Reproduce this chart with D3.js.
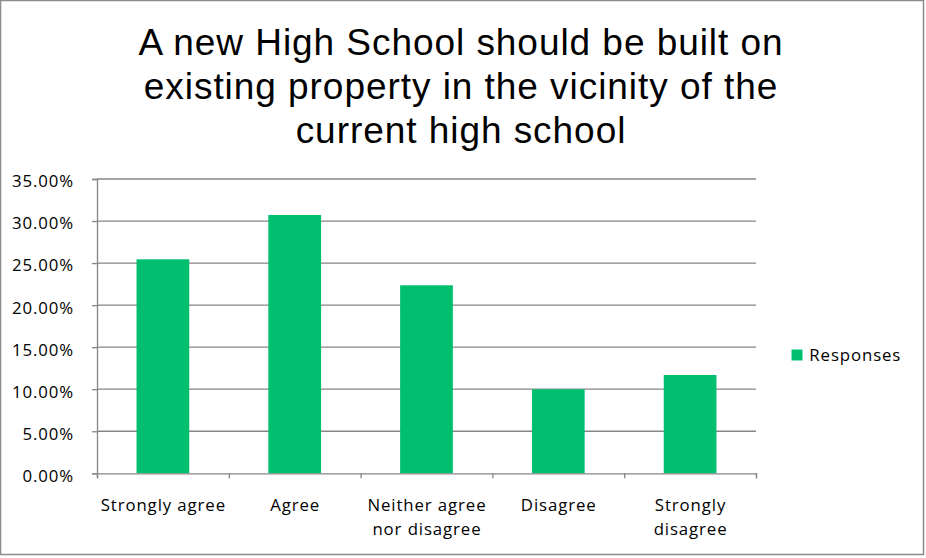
<!DOCTYPE html>
<html><head><meta charset="utf-8">
<script src="https://cdn.jsdelivr.net/npm/d3@7/dist/d3.min.js"></script>
<style>
html,body{margin:0;padding:0;background:#fff;}
svg{display:block;}
</style></head>
<body>
<svg id="chart" width="926" height="558"></svg>
<script>
const titleLines = ["A new High School should be built on", "existing property in the vicinity of the", "current high school"];
const categories = ["Strongly agree", "Agree", "Neither agree nor disagree", "Disagree", "Strongly disagree"];
const categoryLines = [["Strongly agree"], ["Agree"], ["Neither agree", "nor disagree"], ["Disagree"], ["Strongly", "disagree"]];
const responses = [0.2545, 0.3072, 0.2236, 0.0999, 0.1169];
const yTicks = [0, 0.05, 0.10, 0.15, 0.20, 0.25, 0.30, 0.35];
const seriesName = "Responses";

const svg = d3.select("#chart");
const plot = {left: 97, right: 756, top: 179, bottom: 473.3};
const gridColor = "#868686";
const barColor = "#00BF6F";
const bodyFont = "'Open Sans', 'Noto Sans', sans-serif";
const fs = 16.8;
const ls = 0.9;

// outer border
svg.append("rect").attr("x", 0.5).attr("y", 0.5).attr("width", 923).attr("height", 554)
  .attr("fill", "#fff").attr("stroke", "#8c8c8c").attr("stroke-width", 1.5);

// title
svg.append("g").selectAll("text").data(titleLines).join("text")
  .attr("x", 461).attr("y", (d, i) => 55 + i * 44)
  .attr("text-anchor", "middle")
  .attr("font-family", "'Liberation Sans', Arial, sans-serif")
  .attr("font-size", 37).attr("letter-spacing", 0.95).attr("fill", "#000")
  .text(d => d);

const x = d3.scaleBand().domain(categories).range([plot.left, plot.right])
  .paddingInner(0.6).paddingOuter(0.3);
const y = d3.scaleLinear().domain([0, 0.35]).range([plot.bottom, plot.top]);

// gridlines
svg.append("g").selectAll("line").data(yTicks.filter(t => t > 0)).join("line")
  .attr("x1", plot.left).attr("x2", plot.right)
  .attr("y1", d => y(d)).attr("y2", d => y(d))
  .attr("stroke", gridColor).attr("stroke-width", 1.3);

// y axis
const yAxis = d3.axisLeft(y).tickValues(yTicks).tickFormat(d3.format(".2%")).tickSize(5).tickPadding(18);
const gy = svg.append("g").attr("transform", `translate(${plot.left},0)`).call(yAxis);
gy.select(".domain").attr("stroke", gridColor).attr("stroke-width", 1.3);
gy.selectAll(".tick line").attr("stroke", gridColor).attr("stroke-width", 1.3);
gy.selectAll(".tick text").attr("font-family", bodyFont).attr("font-size", fs)
  .attr("letter-spacing", ls).attr("dy", "0.47em").attr("fill", "#000");

// bars
svg.append("g").selectAll("rect").data(responses).join("rect")
  .attr("x", (d, i) => x(categories[i]))
  .attr("width", x.bandwidth())
  .attr("y", d => y(d))
  .attr("height", d => y(0) - y(d))
  .attr("fill", barColor);

// x axis
const xb = d3.scaleLinear().domain([0, categories.length]).range([plot.left, plot.right]);
const gx = svg.append("g").attr("transform", `translate(0,${plot.bottom})`)
  .call(d3.axisBottom(xb).ticks(categories.length).tickSize(5).tickFormat(""));
gx.select(".domain").attr("stroke", gridColor).attr("stroke-width", 1.3);
gx.selectAll(".tick line").attr("stroke", gridColor).attr("stroke-width", 1.3);

svg.append("g").selectAll("text").data(categories).join("text")
  .attr("text-anchor", "middle")
  .attr("font-family", bodyFont).attr("font-size", fs).attr("letter-spacing", ls).attr("fill", "#000")
  .each(function(d, i) {
    const cx = x(d) + x.bandwidth() / 2 + ls / 2;
    d3.select(this).selectAll("tspan").data(categoryLines[i]).join("tspan")
      .attr("x", cx).attr("y", (l, j) => 511 + j * 24).text(l => l);
  });

// legend
const lg = svg.append("g").attr("transform", "translate(791.5,349.5)");
lg.append("rect").attr("width", 11).attr("height", 11).attr("fill", barColor);
lg.append("text").attr("x", 17.8).attr("y", 11.5)
  .attr("font-family", bodyFont).attr("font-size", fs).attr("letter-spacing", ls)
  .attr("fill", "#000").text(seriesName);
</script>
</body></html>
